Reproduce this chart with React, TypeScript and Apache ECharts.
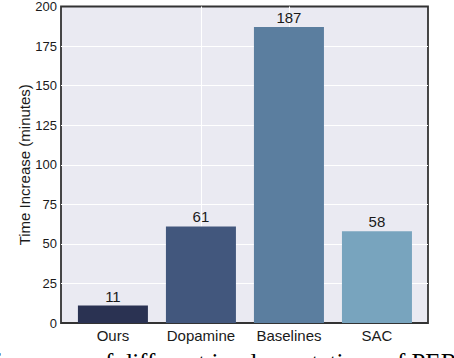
import React, { useEffect, useRef } from "react";
import * as echarts from "echarts";

const categories = ["Ours", "Dopamine", "Baselines", "SAC"];
const timeIncrease = [11, 61, 187, 58];
const yTicks = [0, 25, 50, 75, 100, 125, 150, 175, 200];
const yAxisTitle = "Time Increase (minutes)";
const captionText = "performance of different implementations of PER";

const barColors = ["#2A3252", "#42577D", "#5B7E9F", "#78A4BE"];
const SANS = "Liberation Sans, Arial, sans-serif";

export default function App() {
  const ref = useRef<HTMLDivElement>(null);
  useEffect(() => {
    const chart = echarts.init(ref.current!, null, { renderer: "svg" });
    const positions = categories.map((_, i) => i);
    chart.setOption({
      animation: false,
      grid: {
        left: 61,
        right: 26,
        top: 6,
        bottom: 35,
        show: true,
        backgroundColor: "#EAEAF2",
        borderColor: "#333333",
        borderWidth: 1.8,
      },
      xAxis: {
        type: "value",
        min: -0.59,
        max: 3.58,
        axisLine: { show: false },
        axisTick: { show: false, customValues: positions },
        axisLabel: {
          customValues: positions,
          formatter: (v: number) => categories[Math.round(v)],
          fontSize: 15,
          color: "#1a1a1a",
          fontFamily: SANS,
          margin: 5,
        },
        splitLine: {
          show: true,
          showMinLine: false,
          showMaxLine: false,
          lineStyle: { color: "#ffffff", width: 1 },
        },
      },
      yAxis: {
        type: "value",
        min: yTicks[0],
        max: yTicks[yTicks.length - 1],
        interval: yTicks[1] - yTicks[0],
        name: yAxisTitle,
        nameLocation: "middle",
        nameGap: 37,
        nameMoveOverlap: false,
        nameTextStyle: {
          fontSize: 15,
          color: "#1a1a1a",
          fontFamily: SANS,
          verticalAlign: "middle",
        },
        axisLine: { show: false },
        axisTick: { show: false },
        axisLabel: { fontSize: 13, color: "#1a1a1a", fontFamily: SANS, margin: 4 },
        splitLine: {
          show: true,
          showMinLine: false,
          showMaxLine: false,
          lineStyle: { color: "#ffffff", width: 1 },
        },
      },
      series: [
        {
          type: "bar",
          barWidth: 70,
          data: timeIncrease.map((v, i) => ({
            value: [i, v],
            itemStyle: { color: barColors[i] },
          })),
          label: {
            show: true,
            position: "top",
            distance: 2,
            fontSize: 15,
            color: "#1a1a1a",
            fontFamily: SANS,
            formatter: (p: any) => String(p.value[1]),
          },
        },
      ],
      graphic: [
        {
          type: "text",
          x: -40,
          y: 350,
          style: {
            text: captionText,
            fontSize: 25,
            fontFamily: "Liberation Serif, Times New Roman, serif",
            fill: "#000",
            verticalAlign: "top",
          },
        },
      ],
    });
    return () => chart.dispose();
  }, []);
  return (
    <div
      ref={ref}
      style={{ position: "absolute", left: 0, top: 0, width: 454, height: 358 }}
    />
  );
}
